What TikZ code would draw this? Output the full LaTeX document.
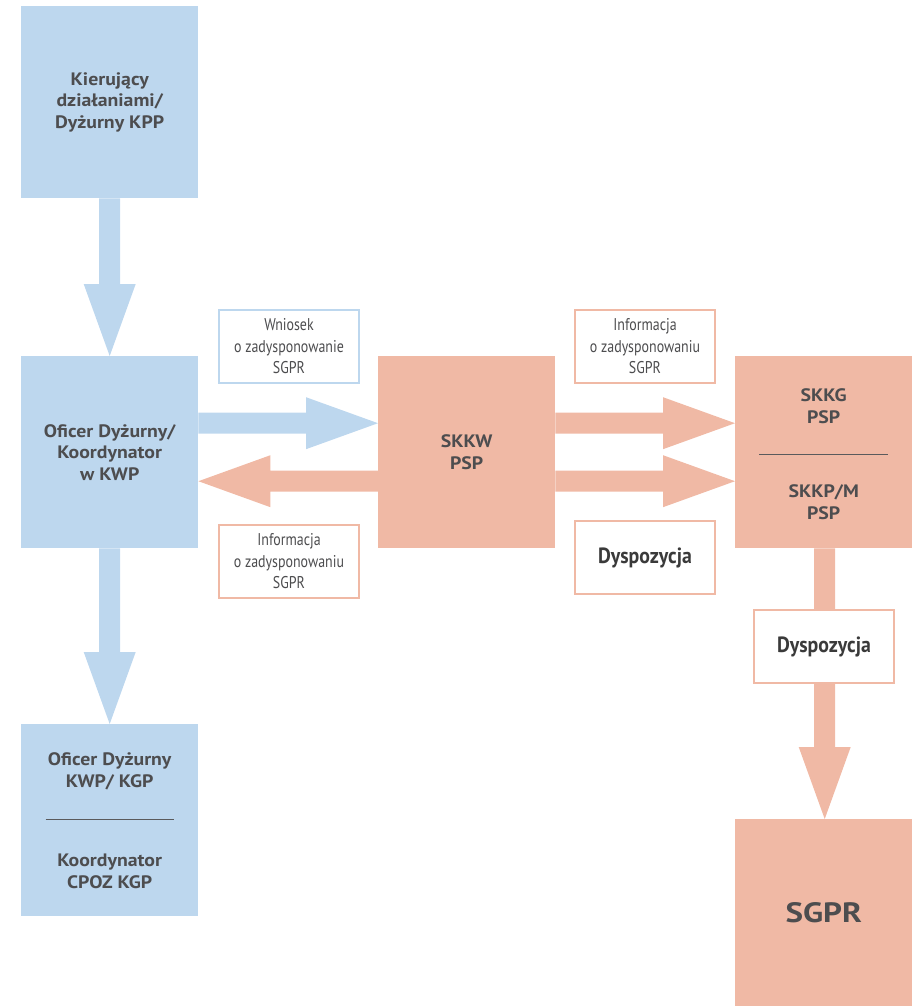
\documentclass[tikz,border=0pt]{standalone}
\usepackage{fontspec}
\setmainfont{PT Sans}
\setsansfont{PT Sans}
\newfontfamily\boldlbl[FakeStretch=1.1]{PT Sans}
\newfontfamily\condfont[FakeStretch=0.82]{PT Sans}
\newfontfamily\dispfont[FakeStretch=0.9]{PT Sans}
\newfontfamily\widefont[FakeStretch=1.18]{PT Sans}
\usetikzlibrary{calc}
\definecolor{bluebox}{HTML}{BDD7EE}
\definecolor{orabox}{HTML}{F0B9A5}
\definecolor{txt}{HTML}{4D4D4F}
\definecolor{darktxt}{HTML}{3A3A3A}
\definecolor{divline}{HTML}{5A5A5C}
\newcommand\blockarrow[3]{%
  \coordinate (bh) at ($(#3)!72pt!(#2)$);
  \fill[#1] ($(#2)!10.5pt!90:(#3)$) -- ($(bh)!10.5pt!90:(#3)$) -- ($(bh)!26pt!90:(#3)$) -- (#3)
    -- ($(bh)!26pt!-90:(#3)$) -- ($(bh)!10.5pt!-90:(#3)$) -- ($(#2)!10.5pt!-90:(#3)$) -- cycle;}
\begin{document}
\begin{tikzpicture}[x=1pt,y=-1pt,
  bigbox/.style={minimum width=177pt, minimum height=192pt, inner sep=0pt, anchor=north west,
    text=txt, font=\boldlbl\bfseries\fontsize{18}{21.5}\selectfont, align=center},
  bluefill/.style={bigbox, fill=bluebox},
  orafill/.style={bigbox, fill=orabox},
  lbl/.style={text=txt, font=\boldlbl\bfseries\fontsize{18}{21.5}\selectfont, align=center, inner sep=0pt},
  smallbox/.style={draw, line width=2pt, fill=white, minimum width=140pt, minimum height=73pt,
    inner sep=0pt, anchor=north west, text=txt, font=\condfont\fontsize{17}{21.5}\selectfont, align=center},
  dispbox/.style={smallbox, draw=orabox, text=darktxt, font=\dispfont\bfseries\fontsize{22}{26}\selectfont},
  divider/.style={draw=divline, line width=1pt}]
\useasboundingbox (0,0) rectangle (912,1006);

% main boxes
\node[bluefill] (kpp) at (21,6) {Kierujący\\działaniami/\\Dyżurny KPP};
\node[bluefill] (kwp) at (21,356) {Oficer Dyżurny/\\Koordynator\\w KWP};
\node[bluefill] (kgp) at (21,724) {};
\node[lbl] (kgp1) at ($(kgp.center)+(0,-49)$) {Oficer Dyżurny\\KWP/ KGP};
\node[lbl] (kgp2) at ($(kgp.center)+(0,51)$) {Koordynator\\CPOZ KGP};
\draw[divider] ($(kgp.center)+(-64,-1)$) -- ($(kgp.center)+(64,-1)$);

\node[orafill] (skkw) at (378,356) {SKKW\\PSP};
\node[orafill] (skkg) at (735,356) {};
\node[lbl] (skkg1) at ($(skkg.center)+(0,-46)$) {SKKG\\PSP};
\node[lbl] (skkg2) at ($(skkg.center)+(0,50)$) {SKKP/M\\PSP};
\draw[divider] ($(skkg.center)+(-64.5,2)$) -- ($(skkg.center)+(64.5,2)$);
\node[orafill, minimum height=187pt, font=\widefont\bfseries\fontsize{28}{30}\selectfont] (sgpr) at (735,819) {SGPR};

% connector end points
\coordinate (kwpU) at ($(kwp.east)+(0,-29)$);
\coordinate (kwpD) at ($(kwp.east)+(0,29)$);
\coordinate (skkwWU) at ($(skkw.west)+(0,-29)$);
\coordinate (skkwWD) at ($(skkw.west)+(0,29)$);
\coordinate (skkwEU) at ($(skkw.east)+(0,-29)$);
\coordinate (skkwED) at ($(skkw.east)+(0,29)$);
\coordinate (skkgWU) at ($(skkg.west)+(0,-29)$);
\coordinate (skkgWD) at ($(skkg.west)+(0,29)$);
\coordinate (skkgS) at ($(skkg.south)+(1,0)$);
\coordinate (sgprN) at ($(sgpr.north)+(1,0)$);

% block arrows
\blockarrow{bluebox}{kpp.south}{kwp.north}
\blockarrow{bluebox}{kwp.south}{kgp.north}
\blockarrow{bluebox}{kwpU}{skkwWU}
\blockarrow{orabox}{skkwWD}{kwpD}
\blockarrow{orabox}{skkwEU}{skkgWU}
\blockarrow{orabox}{skkwED}{skkgWD}
\blockarrow{orabox}{skkgS}{sgprN}

% label boxes
\node[smallbox, draw=bluebox] (wniosek) at (218,309) {Wniosek\\o zadysponowanie\\SGPR};
\node[smallbox, draw=orabox] (info1) at (218,524) {Informacja\\o zadysponowaniu\\SGPR};
\node[smallbox, draw=orabox] (info2) at (574,309) {Informacja\\o zadysponowaniu\\SGPR};
\node[dispbox] (disp1) at (574,520) {Dyspozycja};
\node[dispbox] (disp2) at (753,609) {Dyspozycja};
\end{tikzpicture}
\end{document}
